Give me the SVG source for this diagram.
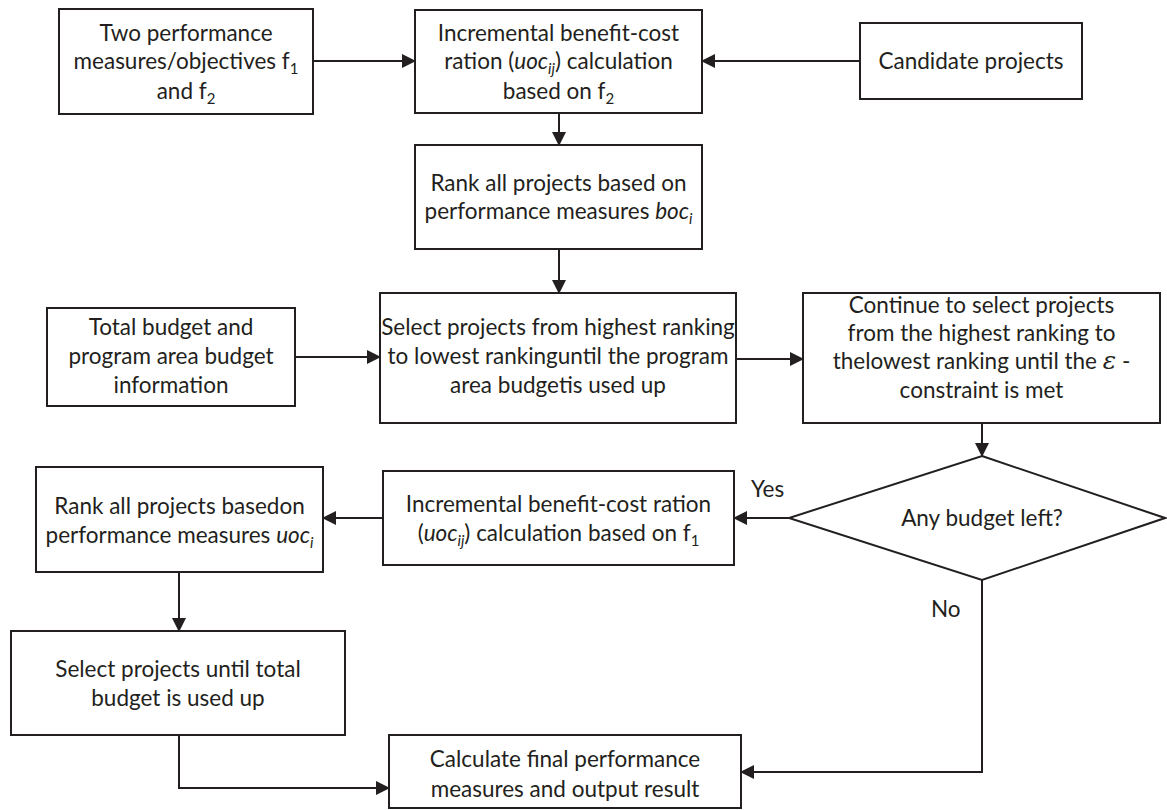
<svg xmlns="http://www.w3.org/2000/svg" width="1167" height="810" viewBox="0 0 1167 810">
  <style>
    .box { fill: #ffffff; stroke: #231f20; stroke-width: 2; }
    .edge { fill: none; stroke: #231f20; stroke-width: 2; }
    .t { font-family: Lato, "Open Sans", "Liberation Sans", sans-serif; font-size: 22.5px; fill: #231f20; text-anchor: middle; }
    .lbl { font-family: Lato, "Open Sans", "Liberation Sans", sans-serif; font-size: 22.5px; fill: #231f20; }
    .sub { font-size: 15px; }
    .it { font-style: italic; }
    .eps { font-family: "DejaVu Serif", "Liberation Serif", serif; font-style: italic; font-size: 25px; }
  </style>
  <defs>
    <marker id="arrow" markerUnits="userSpaceOnUse" markerWidth="14" markerHeight="14" refX="13" refY="7" orient="auto">
      <path d="M0,0 L14,7 L0,14 Z" fill="#231f20"/>
    </marker>
  </defs>
  <rect width="1167" height="810" fill="#ffffff"/>

  <g id="connectors">
    <line class="edge" x1="313" y1="61" x2="415" y2="61" marker-end="url(#arrow)"/>
    <line class="edge" x1="860" y1="61" x2="702" y2="61" marker-end="url(#arrow)"/>
    <line class="edge" x1="559" y1="113" x2="559" y2="145" marker-end="url(#arrow)"/>
    <line class="edge" x1="559" y1="249" x2="559" y2="293" marker-end="url(#arrow)"/>
    <line class="edge" x1="295" y1="357" x2="380" y2="357" marker-end="url(#arrow)"/>
    <line class="edge" x1="736" y1="359" x2="803" y2="359" marker-end="url(#arrow)"/>
    <line class="edge" x1="982" y1="423" x2="982" y2="456" marker-end="url(#arrow)"/>
    <line class="edge" x1="789" y1="518" x2="734" y2="518" marker-end="url(#arrow)"/>
    <line class="edge" x1="383" y1="518" x2="323" y2="518" marker-end="url(#arrow)"/>
    <line class="edge" x1="179" y1="572" x2="179" y2="631" marker-end="url(#arrow)"/>
    <polyline class="edge" points="179,735 179,788 389,788" marker-end="url(#arrow)"/>
    <polyline class="edge" points="982,580 982,772 741,772" marker-end="url(#arrow)"/>
    <text class="lbl" x="751" y="497">Yes</text>
    <text class="lbl" x="931" y="617">No</text>
  </g>

  <g id="objectives">
    <rect class="box" x="59" y="9" width="254" height="105"/>
    <text class="t" x="186" y="41">Two performance</text>
    <text class="t" x="186" y="69">measures/objectives f<tspan class="sub" dy="5">1</tspan></text>
    <text class="t" x="186" y="99">and f<tspan class="sub" dy="5">2</tspan></text>
  </g>

  <g id="incremental-f2">
    <rect class="box" x="415" y="10" width="287" height="103"/>
    <text class="t" x="558.5" y="41">Incremental benefit-cost</text>
    <text class="t" x="558.5" y="69">ration (<tspan class="it">uoc</tspan><tspan class="it sub" dy="5">ij</tspan><tspan dy="-5">) calculation</tspan></text>
    <text class="t" x="558.5" y="99">based on f<tspan class="sub" dy="5">2</tspan></text>
  </g>

  <g id="candidates">
    <rect class="box" x="860" y="23" width="222" height="76"/>
    <text class="t" x="971" y="69">Candidate projects</text>
  </g>

  <g id="rank-boc">
    <rect class="box" x="415" y="145" width="287" height="104"/>
    <text class="t" x="558.5" y="191">Rank all projects based on</text>
    <text class="t" x="558.5" y="219">performance measures <tspan class="it">boc</tspan><tspan class="it sub" dy="5">i</tspan></text>
  </g>

  <g id="budget-info">
    <rect class="box" x="47" y="308" width="248" height="98"/>
    <text class="t" x="171" y="335">Total budget and</text>
    <text class="t" x="171" y="364">program area budget</text>
    <text class="t" x="171" y="393">information</text>
  </g>

  <g id="select-area">
    <rect class="box" x="380" y="293" width="356" height="130"/>
    <text class="t" x="558" y="335">Select projects from highest ranking</text>
    <text class="t" x="558" y="364">to lowest rankinguntil the program</text>
    <text class="t" x="558" y="393">area budgetis used up</text>
  </g>

  <g id="epsilon-step">
    <rect class="box" x="803" y="293" width="357" height="130"/>
    <text class="t" x="981.5" y="313">Continue to select projects</text>
    <text class="t" x="981.5" y="341">from the highest ranking to</text>
    <text class="t" x="981.5" y="369">thelowest ranking until the <tspan class="eps">ε</tspan>  -</text>
    <text class="t" x="981.5" y="398">constraint is met</text>
  </g>

  <g id="budget-left">
    <polygon class="box" points="982,456 1165,518 982,580 789,518"/>
    <text class="t" x="982" y="526">Any budget left?</text>
  </g>

  <g id="incremental-f1">
    <rect class="box" x="383" y="471" width="351" height="94"/>
    <text class="t" x="558.5" y="512">Incremental benefit-cost ration</text>
    <text class="t" x="558.5" y="541">(<tspan class="it">uoc</tspan><tspan class="it sub" dy="5">ij</tspan><tspan dy="-5">) calculation based on f</tspan><tspan class="sub" dy="5">1</tspan></text>
  </g>

  <g id="rank-uoc">
    <rect class="box" x="36" y="467" width="287" height="105"/>
    <text class="t" x="179.5" y="514">Rank all projects basedon</text>
    <text class="t" x="179.5" y="543">performance measures <tspan class="it">uoc</tspan><tspan class="it sub" dy="5">i</tspan></text>
  </g>

  <g id="select-total">
    <rect class="box" x="11" y="631" width="334" height="104"/>
    <text class="t" x="178" y="677">Select projects until total</text>
    <text class="t" x="178" y="706">budget is used up</text>
  </g>

  <g id="final-output">
    <rect class="box" x="389" y="735" width="352" height="73"/>
    <text class="t" x="565" y="767">Calculate final performance</text>
    <text class="t" x="565" y="797">measures and output result</text>
  </g>
</svg>
